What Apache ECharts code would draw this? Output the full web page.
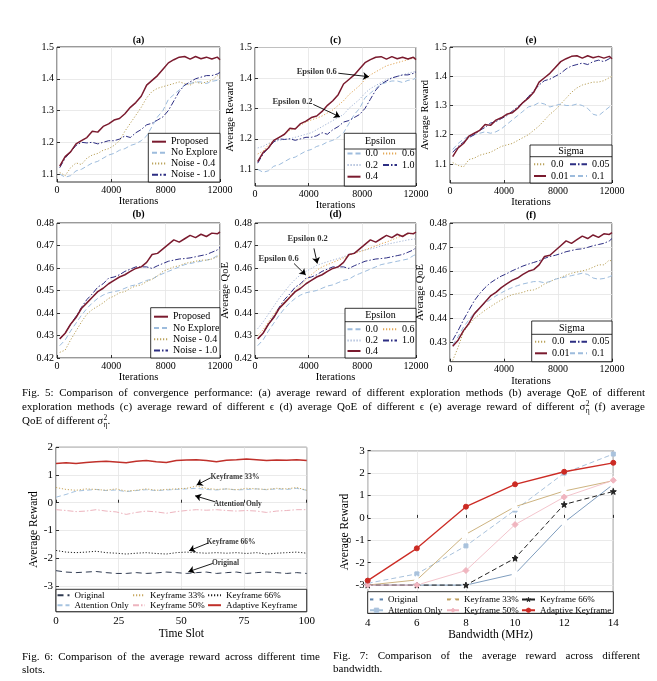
<!DOCTYPE html>
<html><head><meta charset="utf-8">
<script src="https://cdn.jsdelivr.net/npm/echarts@6/dist/echarts.min.js"></script>
<style>html,body{margin:0;padding:0;background:#fff}#c{width:657px;height:681px}</style>
</head><body><div id="c"></div>
<script>
// ---------------- DATA ----------------
const iters = [200,600,1000,1400,1800,2200,2600,3000,3400,3800,4200,4600,5000,5400,5800,6200,6600,7000,7400,7800,8200,8600,9000,9400,9800,10200,10600,11000,11400,11800,12000];
// rewards
const proposedR = [1.125,1.155,1.17,1.195,1.205,1.215,1.235,1.232,1.25,1.258,1.27,1.275,1.29,1.31,1.325,1.345,1.38,1.395,1.41,1.43,1.45,1.46,1.468,1.47,1.462,1.47,1.463,1.468,1.462,1.468,1.46];
const noExploreR = [1.10,1.09,1.095,1.11,1.115,1.125,1.135,1.14,1.15,1.16,1.165,1.175,1.18,1.19,1.195,1.205,1.22,1.25,1.28,1.30,1.335,1.35,1.365,1.38,1.385,1.39,1.39,1.385,1.392,1.395,1.40];
const noise04R = [1.105,1.095,1.12,1.135,1.13,1.15,1.16,1.165,1.175,1.18,1.19,1.205,1.235,1.26,1.285,1.31,1.34,1.36,1.37,1.375,1.38,1.385,1.39,1.385,1.38,1.39,1.385,1.39,1.395,1.41,1.405];
const noise10R = [1.12,1.15,1.17,1.19,1.20,1.198,1.20,1.195,1.20,1.205,1.205,1.21,1.22,1.215,1.23,1.24,1.255,1.26,1.27,1.28,1.30,1.33,1.36,1.38,1.39,1.40,1.405,1.41,1.41,1.415,1.42];
const eps06R = [1.15,1.16,1.18,1.195,1.205,1.215,1.228,1.235,1.245,1.255,1.262,1.268,1.275,1.285,1.295,1.31,1.325,1.345,1.36,1.375,1.395,1.41,1.42,1.43,1.44,1.445,1.45,1.455,1.46,1.465,1.47];
const eps02R = [1.17,1.175,1.185,1.19,1.195,1.198,1.20,1.205,1.21,1.215,1.22,1.23,1.24,1.25,1.26,1.27,1.28,1.30,1.315,1.33,1.35,1.365,1.375,1.385,1.395,1.40,1.405,1.41,1.415,1.42,1.42];
const sig00R = [1.105,1.095,1.09,1.115,1.12,1.13,1.135,1.14,1.15,1.16,1.165,1.17,1.18,1.19,1.20,1.215,1.23,1.25,1.27,1.285,1.305,1.325,1.345,1.36,1.37,1.375,1.38,1.38,1.385,1.395,1.40];
const sig005R = [1.14,1.16,1.175,1.19,1.20,1.215,1.225,1.24,1.245,1.255,1.265,1.28,1.295,1.31,1.33,1.35,1.37,1.385,1.39,1.40,1.41,1.425,1.435,1.44,1.445,1.44,1.45,1.455,1.45,1.46,1.465];
const sig01R = [1.15,1.17,1.185,1.195,1.20,1.205,1.21,1.205,1.21,1.22,1.235,1.25,1.265,1.28,1.295,1.30,1.31,1.305,1.295,1.30,1.305,1.30,1.30,1.305,1.30,1.29,1.27,1.265,1.28,1.295,1.30];
// QoE
const proposedQ = [0.4285,0.431,0.435,0.438,0.442,0.4445,0.447,0.4495,0.451,0.453,0.4545,0.456,0.457,0.4585,0.4598,0.4605,0.4625,0.466,0.4665,0.4685,0.4705,0.4725,0.4715,0.473,0.4745,0.4735,0.475,0.474,0.4755,0.4752,0.476];
const noExploreQ = [0.4255,0.428,0.432,0.4355,0.439,0.442,0.4445,0.4465,0.448,0.449,0.4495,0.450,0.451,0.452,0.4525,0.4535,0.4545,0.455,0.4565,0.4575,0.4585,0.4595,0.4605,0.4615,0.462,0.4625,0.463,0.4635,0.464,0.4655,0.466];
const noise04Q = [0.4225,0.4235,0.428,0.432,0.436,0.4395,0.4415,0.443,0.4445,0.4465,0.4475,0.449,0.4495,0.451,0.452,0.4525,0.454,0.455,0.4565,0.4585,0.4595,0.4605,0.461,0.462,0.4625,0.463,0.4635,0.4635,0.464,0.465,0.4655];
const noise10Q = [0.4285,0.431,0.435,0.4385,0.4425,0.446,0.4485,0.4515,0.453,0.4555,0.456,0.457,0.4585,0.4595,0.4605,0.4605,0.4605,0.4598,0.461,0.462,0.463,0.4635,0.464,0.4642,0.4645,0.465,0.4655,0.466,0.467,0.468,0.4692];
const eps02Q = [0.433,0.436,0.4395,0.443,0.4465,0.4495,0.4525,0.455,0.457,0.4585,0.4598,0.4612,0.462,0.4628,0.4635,0.4642,0.465,0.466,0.4668,0.4675,0.468,0.4685,0.469,0.4698,0.4705,0.471,0.4715,0.472,0.4725,0.4728,0.473];
const eps06Q = [0.430,0.4325,0.436,0.4395,0.4425,0.445,0.4475,0.45,0.4525,0.4548,0.457,0.459,0.4605,0.4615,0.4625,0.4635,0.4645,0.4655,0.4665,0.4672,0.468,0.469,0.4698,0.4708,0.4715,0.4725,0.4735,0.4745,0.475,0.4755,0.476];
const sig00Q = [0.4225,0.428,0.4345,0.4375,0.44,0.4418,0.4435,0.445,0.4465,0.4478,0.449,0.45,0.4505,0.451,0.4518,0.452,0.453,0.4545,0.4555,0.4565,0.4572,0.4582,0.459,0.4595,0.46,0.4605,0.4615,0.4625,0.4625,0.4645,0.464];
const sig005Q = [0.431,0.435,0.4395,0.4435,0.4475,0.4505,0.453,0.455,0.4565,0.4578,0.4588,0.46,0.461,0.462,0.4628,0.4635,0.4642,0.4652,0.466,0.4665,0.4672,0.468,0.4685,0.469,0.4692,0.4698,0.4705,0.471,0.4715,0.4725,0.4735];
const sig01Q = [0.429,0.4325,0.4365,0.4395,0.4425,0.4445,0.4465,0.448,0.4495,0.4508,0.452,0.453,0.4538,0.4545,0.455,0.4555,0.4555,0.455,0.4555,0.4565,0.457,0.4575,0.458,0.4585,0.459,0.4585,0.457,0.4565,0.4568,0.4575,0.458];
// Fig 6 (time slots)
const timeSlots = [0,4,8,12,16,20,24,28,32,36,40,44,48,52,56,60,64,68,72,76,80,84,88,92,96,100];
const tsAdaptive = [1.42,1.44,1.42,1.45,1.48,1.5,1.47,1.44,1.5,1.52,1.48,1.45,1.52,1.54,1.55,1.52,1.48,1.53,1.55,1.58,1.55,1.52,1.54,1.53,1.55,1.52];
const tsKf33 = [0.55,0.48,0.45,0.5,0.48,0.45,0.5,0.42,0.45,0.5,0.45,0.48,0.5,0.52,0.6,0.52,0.48,0.5,0.47,0.52,0.5,0.48,0.52,0.5,0.55,0.45];
const tsAttention = [0.2,0.3,0.42,0.45,0.48,0.44,0.46,0.4,0.44,0.47,0.44,0.46,0.48,0.5,0.52,0.48,0.46,0.5,0.46,0.48,0.5,0.47,0.5,0.48,0.52,0.45];
const tsKf50 = [-0.25,-0.28,-0.32,-0.3,-0.25,-0.3,-0.33,-0.42,-0.35,-0.3,-0.33,-0.38,-0.32,-0.28,-0.25,-0.27,-0.25,-0.28,-0.3,-0.28,-0.3,-0.35,-0.3,-0.28,-0.25,-0.25];
const tsKf66 = [-1.72,-1.78,-1.8,-1.78,-1.75,-1.8,-1.82,-1.85,-1.82,-1.8,-1.83,-1.85,-1.8,-1.78,-1.8,-1.82,-1.8,-1.82,-1.8,-1.83,-1.8,-1.85,-1.82,-1.8,-1.78,-1.82];
const tsOriginal = [-2.45,-2.5,-2.52,-2.5,-2.48,-2.52,-2.55,-2.55,-2.52,-2.55,-2.53,-2.5,-2.52,-2.55,-2.52,-2.5,-2.55,-2.52,-2.5,-2.55,-2.52,-2.5,-2.52,-2.55,-2.52,-2.55];
// Fig 7 (bandwidth)
const bandwidth = [4,6,8,10,12,14];
const bwOriginal = [-3,-3,-3,-2.5,-0.2,1.5];
const bwAttention = [-2.92,-2.5,-1.25,0.35,2.0,2.85];
const bwKf33 = [-3,-2.77,-0.73,0.5,1.2,1.66];
const bwKf66 = [-3,-3,-3,-1.8,0.6,1.18];
const bwKf50 = [-3,-3,-2.35,-0.3,0.93,1.68];
const bwAdaptive = [-2.8,-1.36,0.5,1.5,2.06,2.46];
// tick labels
const rewardTicks = [1.1,1.2,1.3,1.4,1.5];
const qoeTicks = [0.42,0.43,0.44,0.45,0.46,0.47,0.48];
const qoeTicksF = [0.43,0.44,0.45,0.46,0.47,0.48];
const fig6Ticks = [-3,-2,-1,0,1,2];
const fig7Ticks = [-3,-2,-1,0,1,2,3];
// annotations [x, y, text] and arrows [x1,y1,x2,y2]
const annC = [[4600,1.419,'Epsilon 0.6'],[2795,1.321,'Epsilon 0.2']];
const arrC = [[6209,1.4155,8497,1.404],[4345,1.313,6335,1.272]];
const annD = [[3926,0.4731,'Epsilon 0.2'],[1756,0.4639,'Epsilon 0.6']];
const arrD = [[4393,0.4687,4644,0.462],[2911,0.462,3778,0.4569]];
const annG = [[71.4,0.916,'Keyframe 33%'],[72.5,-0.048,'Attention Only'],[69.8,-1.41,'Keyframe 66%'],[67.6,-2.17,'Original']];
const arrG = [[61.7,0.90,56.1,0.64],[63.4,0.036,55.5,0.25],[60.8,-1.45,53.1,-1.73],[62.5,-2.19,52.8,-2.49]];

// ---------------- STYLE ----------------
const F = 'Liberation Serif';
const DASH = [5,3], DOT = [1.2,1.8], DASHDOT = [6,2,1.5,2];
const C = {red:'#7A1A2E', blue:'#2D2E83', olive:'#BBA35C', lblue:'#9DBCDD', orange:'#E3A857', steel:'#A3B5D6'};
const GRID = '#e4e4e4';

// grid boxes: [left, top, right, bottom]
const boxes = [
  [57,47,220,182],[57,223,220,358],
  [255,47.5,416,186],[255,223,416,358],
  [450,47,612,183],[450,223,612,361.7],
  [56,447.3,306.7,611.7],[367.7,450.7,613.3,613.3]
];
const grids = boxes.map(b=>({left:b[0],top:b[1],width:b[2]-b[0],height:b[3]-b[1],show:true,borderColor:'#000',borderWidth:0.8,containLabel:false}));

function xAx(gi, min, max, interval, name, fs, margin, gap){
  return {gridIndex:gi,type:'value',min,max,interval,name,nameLocation:'middle',nameGap:gap,
    nameTextStyle:{fontFamily:F,fontSize:fs+0.5,color:'#000'},
    axisLine:{show:false},axisTick:{show:true,inside:true,length:3,lineStyle:{color:'#000',width:0.8}},
    axisLabel:{fontFamily:F,fontSize:fs,color:'#000',margin,formatter:v=>String(v)},
    splitLine:{show:true,lineStyle:{color:GRID,width:0.8}}};
}
function yAx(gi, min, max, ticks, name, fs, gap){
  return {gridIndex:gi,type:'value',min,max,name,nameLocation:'middle',nameGap:gap,
    nameTextStyle:{fontFamily:F,fontSize:fs+0.5,color:'#000'},
    axisLine:{show:false},
    axisTick:{show:true,inside:true,length:3,customValues:ticks,lineStyle:{color:'#000',width:0.8}},
    axisLabel:{fontFamily:F,fontSize:fs,color:'#000',margin:3,customValues:ticks,formatter:v=>String(v)},
    splitLine:{show:true,lineStyle:{color:GRID,width:0.8}}};
}
const xAxes = [
  xAx(0,0,12000,4000,'Iterations',10,3,11), xAx(1,0,12000,4000,'Iterations',10,3,11),
  xAx(2,0,12000,4000,'Iterations',10,3,11), xAx(3,0,12000,4000,'Iterations',10,3,11),
  xAx(4,0,12000,4000,'Iterations',10,3,11), xAx(5,0,12000,4000,'Iterations',10,3,11),
  xAx(6,0,100,25,'Time Slot',11,4,12), xAx(7,4,14,2,'Bandwidth (MHz)',11,4,13)
];
const yAxes = [
  yAx(0,1.075,1.5,rewardTicks,'',10,20), yAx(1,0.42,0.48,qoeTicks,'',10,20),
  yAx(2,1.045,1.5,rewardTicks,'Average Reward',10,19), yAx(3,0.42,0.48,qoeTicks,'Average QoE',10,19),
  yAx(4,1.035,1.5,rewardTicks,'Average Reward',10,17), yAx(5,0.422,0.48,qoeTicksF,'Average QoE',10,17),
  yAx(6,-3.93,2,fig6Ticks,'Average Reward',11,15), yAx(7,-4.26,3,fig7Ticks,'Average Reward',11,17)
];

function ser(key, gi, xs, ys, color, dash, width, extra){
  return Object.assign({type:'line',name:key,xAxisIndex:gi,yAxisIndex:gi,
    data:xs.map((x,i)=>[x,ys[i]]),symbol:'none',silent:true,animation:false,
    lineStyle:{color,width:width||1,type:dash||'solid'},itemStyle:{color}}, extra||{});
}
function mk(sym,size,color,fill){
  return {symbol:sym,symbolSize:size,showSymbol:true,itemStyle:{color:fill||color,borderColor:color,borderWidth:1}};
}
const STAR = 'path://M50,0 L61,35 L98,35 L68,57 L79,91 L50,70 L21,91 L32,57 L2,35 L39,35 Z';

const series = [
  // (a)
  ser('a|No Explore',0,iters,noExploreR,C.lblue,DASH),
  ser('a|Noise - 0.4',0,iters,noise04R,C.olive,DOT),
  ser('a|Noise - 1.0',0,iters,noise10R,C.blue,DASHDOT),
  ser('a|Proposed',0,iters,proposedR,C.red,'solid',1.5),
  // (b)
  ser('b|No Explore',1,iters,noExploreQ,C.lblue,DASH),
  ser('b|Noise - 0.4',1,iters,noise04Q,C.olive,DOT),
  ser('b|Noise - 1.0',1,iters,noise10Q,C.blue,DASHDOT),
  ser('b|Proposed',1,iters,proposedQ,C.red,'solid',1.5),
  // (c)
  ser('c|0.0',2,iters,noExploreR,C.lblue,DASH),
  ser('c|0.2',2,iters,eps02R,C.steel,DOT),
  ser('c|0.6',2,iters,eps06R,C.orange,DOT),
  ser('c|1.0',2,iters,noise10R,C.blue,DASHDOT),
  ser('c|0.4',2,iters,proposedR,C.red,'solid',1.5),
  // (d)
  ser('d|0.0',3,iters,noExploreQ,C.lblue,DASH),
  ser('d|0.2',3,iters,eps02Q,C.steel,DOT),
  ser('d|0.6',3,iters,eps06Q,C.orange,DOT),
  ser('d|1.0',3,iters,noise10Q,C.blue,DASHDOT),
  ser('d|0.4',3,iters,proposedQ,C.red,'solid',1.5),
  // (e)
  ser('e|0.0',4,iters,sig00R,C.olive,DOT),
  ser('e|0.1',4,iters,sig01R,C.lblue,DASH),
  ser('e|0.05',4,iters,sig005R,C.blue,DASHDOT),
  ser('e|0.01',4,iters,proposedR,C.red,'solid',1.5),
  // (f)
  ser('f|0.0',5,iters,sig00Q,C.olive,DOT),
  ser('f|0.1',5,iters,sig01Q,C.lblue,DASH),
  ser('f|0.05',5,iters,sig005Q,C.blue,DASHDOT),
  ser('f|0.01',5,iters,proposedQ,C.red,'solid',1.5),
  // Fig 6
  ser('g|Original',6,timeSlots,tsOriginal,'#2F3A50',[6,4]),
  ser('g|Attention Only',6,timeSlots,tsAttention,'#A6C3E0',DASH),
  ser('g|Keyframe 50%',6,timeSlots,tsKf50,'#EDB4BE',DASHDOT),
  ser('g|Keyframe 66%',6,timeSlots,tsKf66,'#222222',DOT),
  ser('g|Keyframe 33%',6,timeSlots,tsKf33,'#C8A860',DOT),
  ser('g|Adaptive Keyframe',6,timeSlots,tsAdaptive,'#C0302A','solid',1.5),
  // Fig 7
  ser('h|Original',7,bandwidth,bwOriginal,'#5E84AD','solid',0.8,mk('emptyCircle',5,'#5E84AD','#fff')),
  ser('h|Attention Only',7,bandwidth,bwAttention,'#A9C2DC',DASH,1,mk('rect',4,'#A9C2DC')),
  ser('h|Keyframe 33%',7,bandwidth,bwKf33,'#C0A060','solid',0.8,mk('emptyTriangle',6,'#C0A060','#fff')),
  ser('h|Keyframe 66%',7,bandwidth,bwKf66,'#222222',DASH,1,mk(STAR,6,'#222222')),
  ser('h|Keyframe 50%',7,bandwidth,bwKf50,'#F0B5BF','solid',0.8,mk('diamond',6,'#F0B5BF')),
  ser('h|Adaptive Keyframe',7,bandwidth,bwAdaptive,'#CC2B24','solid',1.3,mk('circle',5,'#CC2B24'))
];

function annSeries(gi, ann, arr, fs){
  return {type:'scatter',name:'ann'+gi,xAxisIndex:gi,yAxisIndex:gi,symbolSize:0,silent:true,z:5,
    data:ann.map(a=>({value:[a[0],a[1]],name:a[2]})),
    label:{show:true,position:'inside',formatter:'{b}',fontFamily:F,fontWeight:'bold',fontSize:fs,color:'#000'},
    markLine:{silent:true,symbol:['none','arrow'],symbolSize:6,animation:false,
      lineStyle:{color:'#000',width:0.9,type:'solid'},label:{show:false},
      data:arr.map(r=>[{coord:[r[0],r[1]]},{coord:[r[2],r[3]]}])}};
}
series.push(annSeries(2,annC,arrC,8.5), annSeries(3,annD,arrD,8.5), annSeries(6,annG,arrG,7.5));

// ---------------- LEGENDS ----------------
function lg(name, left, cy, w, fs, ih, showSym){
  ih = ih || 10;
  const o = {data:[name],left,top:cy-ih/2,itemWidth:w,itemHeight:ih,itemGap:0,padding:0,selectedMode:false,
    formatter:n=>n.split('|')[1],textStyle:{fontFamily:F,fontSize:fs||10,color:'#000'}};
  if(!showSym) o.itemStyle = {opacity:0};
  else o.itemStyle = {borderWidth:0.8};
  return o;
}
const legends = [
  lg('a|Proposed',151,141.7,14), lg('a|No Explore',151,152.7,14), lg('a|Noise - 0.4',151,163.5,14), lg('a|Noise - 1.0',151,174.7,14),
  lg('b|Proposed',153,316.7,14), lg('b|No Explore',153,328,14), lg('b|Noise - 0.4',153,339.3,14), lg('b|Noise - 1.0',153,350.5,14),
  lg('c|0.0',346.5,153.5,13), lg('c|0.6',382,153.5,14), lg('c|0.2',346.5,165,13), lg('c|1.0',382,165,14), lg('c|0.4',346.5,176.7,13),
  lg('d|0.0',346.5,329.3,13), lg('d|0.6',382,329.3,14), lg('d|0.2',346.5,340.5,13), lg('d|1.0',382,340.5,14), lg('d|0.4',346.5,351,13),
  lg('e|0.0',533,164.3,12), lg('e|0.05',569,164.3,17), lg('e|0.01',533,176,12), lg('e|0.1',569,176,17),
  lg('f|0.0',534,341.7,12), lg('f|0.05',569,341.7,17), lg('f|0.01',534,353.3,12), lg('f|0.1',569,353.3,17),
  lg('g|Original',56.5,595.7,12,9), lg('g|Keyframe 33%',132,595.7,12,9), lg('g|Keyframe 66%',207,595.7,13,9),
  lg('g|Attention Only',56.5,605.7,12,9), lg('g|Keyframe 50%',132,605.7,12,9), lg('g|Adaptive Keyframe',207,605.7,13,9),
  lg('h|Original',369,597.7,13,9,5.5,true), lg('h|Keyframe 33%',446,597.7,12,9,5.5,true), lg('h|Keyframe 66%',521,597.7,13,9,5.5,true),
  lg('h|Attention Only',369,608.5,13,9,5.5,true), lg('h|Keyframe 50%',446,608.5,12,9,5.5,true), lg('h|Adaptive Keyframe',521,608.5,13,9,5.5,true)
];

// ---------------- GRAPHICS (titles, legend boxes, captions) ----------------
const els = [];
function txt(t,x,y,size,opts){
  els.push(Object.assign({type:'text',x,y,z:6,silent:true,style:Object.assign({text:t,font:size+'px "'+F+'"',fill:'#000',align:'left',verticalAlign:'middle'},opts||{})}));
}
function rect(x1,y1,x2,y2){
  els.push({type:'rect',z:3,silent:true,shape:{x:x1,y:y1,width:x2-x1,height:y2-y1},style:{fill:'#fff',stroke:'#000',lineWidth:0.8}});
}
function hline(x1,x2,y){
  els.push({type:'line',z:3,silent:true,shape:{x1,y1:y,x2,y2:y},style:{stroke:'#000',lineWidth:0.8}});
}
// panel titles
[['(a)',138.5,40],['(b)',138.5,214],['(c)',335.5,40],['(d)',335.5,214.5],['(e)',531,40],['(f)',531,215]].forEach(t=>txt(t[0],t[1],t[2],10,{align:'center',font:'bold 10px "'+F+'"'}));
// legend boxes
rect(148.3,133.3,220,182); rect(150.7,307.7,220,358);
rect(344.3,133.3,416,186); hline(344.3,416,149); txt('Epsilon',380.2,141.5,10,{align:'center'});
rect(345,308.3,416,358); hline(345,416,321.7); txt('Epsilon',380.5,315.5,10,{align:'center'});
rect(530,145,612,183); hline(530,612,156.7); txt('Sigma',571,151,10,{align:'center'});
rect(531.7,321,612,361.7); hline(531.7,612,334.3); txt('Sigma',571.8,328,10,{align:'center'});
rect(56,589.3,306.7,611.7); rect(367.7,591.7,613.3,613.3);

// captions (justified)
const mctx = document.createElement('canvas').getContext('2d');
function mw(t,size){ mctx.font = size+'px "'+F+'"'; return mctx.measureText(t).width; }
function tokW(t){
  if(t.startsWith('σ@')){ const r=t.slice(2); return mw('σ',11)+Math.max(mw('2',7.5),mw('η',7.5))+(r?mw(r,11):0); }
  return mw(t,11);
}
function drawTok(t,x,y){
  if(t.startsWith('σ@')){
    const r=t.slice(2), w=mw('σ',11), sw=Math.max(mw('2',7.5),mw('η',7.5));
    txt('σ',x,y,11); txt('2',x+w+0.3,y-3.8,7.5); txt('η',x+w+0.3,y+3.6,7.5);
    if(r) txt(r,x+w+sw+0.3,y,11);
  } else txt(t,x,y,11);
}
function capLine(s,x0,x1,y,just){
  const toks=s.split(' '), ws=toks.map(tokW), tot=ws.reduce((a,b)=>a+b,0);
  const gap = just ? (x1-x0-tot)/(toks.length-1) : mw(' ',11);
  let x=x0; toks.forEach((t,i)=>{ drawTok(t,x,y); x+=ws[i]+gap; });
}
capLine('Fig. 5: Comparison of convergence performance: (a) average reward of different exploration methods (b) average QoE of different',22,645,393,true);
capLine('exploration methods (c) average reward of different ϵ (d) average QoE of different ϵ (e) average reward of different σ@ (f) average',22,645,407.5,true);
capLine('QoE of different σ@.',22,645,421.5,false);
capLine('Fig. 6: Comparison of the average reward across different time',22,320,657,true);
capLine('slots.',22,320,670,false);
capLine('Fig. 7: Comparison of the average reward across different',333,640,656,true);
capLine('bandwidth.',333,640,669,false);

// ---------------- CHART ----------------
const chart = echarts.init(document.getElementById('c'), null, {renderer:'canvas',width:657,height:681});
chart.setOption({
  animation:false,
  backgroundColor:'#fff',
  textStyle:{fontFamily:F},
  grid:grids, xAxis:xAxes, yAxis:yAxes,
  legend:legends,
  series,
  graphic:{elements:els}
});
</script></body></html>
